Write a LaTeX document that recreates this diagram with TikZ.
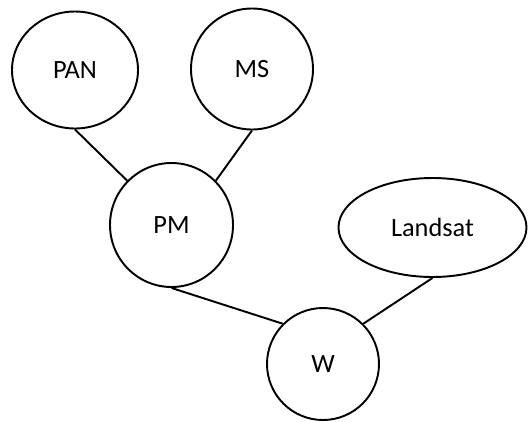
\documentclass[tikz,border=0pt]{standalone}
\usepackage{fontspec}
\setmainfont{Carlito}
\usepackage{tikz}
\usetikzlibrary{shapes.geometric, positioning}
\tikzstyle{source} = [ellipse, 
inner sep=0pt, 
text centered, 
line width=1.1pt, 
font=\fontsize{15}{18}\selectfont, 
draw=black]
\tikzstyle{link} = [line width=1.1pt]

\begin{document}
\begin{tikzpicture}
        \useasboundingbox (0,0) rectangle (10.56,-8.42);

        % --- Nodos ---
        \node (pan) [source, minimum width=2.52cm, minimum height=2.34cm] at (1.50,-1.40) {PAN};
        \node (ms) [source, minimum width=2.44cm, minimum height=2.42cm] at (5.04,-1.38) {MS};
        \node (pm) [source, minimum width=2.46cm, minimum height=2.48cm] at (3.43,-4.50) {PM};
        \node (landsat) [source, minimum width=3.76cm, minimum height=1.98cm] at (8.65,-4.55) {Landsat};
        \node (w) [source, minimum width=2.24cm, minimum height=2.24cm] at (6.46,-7.28) {W};

        % --- Conexiones ---
        \draw [link] (pan.south) -- (pm.135);
        \draw [link] (ms.south) -- (pm.45);
        \draw [link] (pm.south) -- (w.135);
        \draw [link] (landsat.south) -- (w.45);

\end{tikzpicture}
\end{document}
